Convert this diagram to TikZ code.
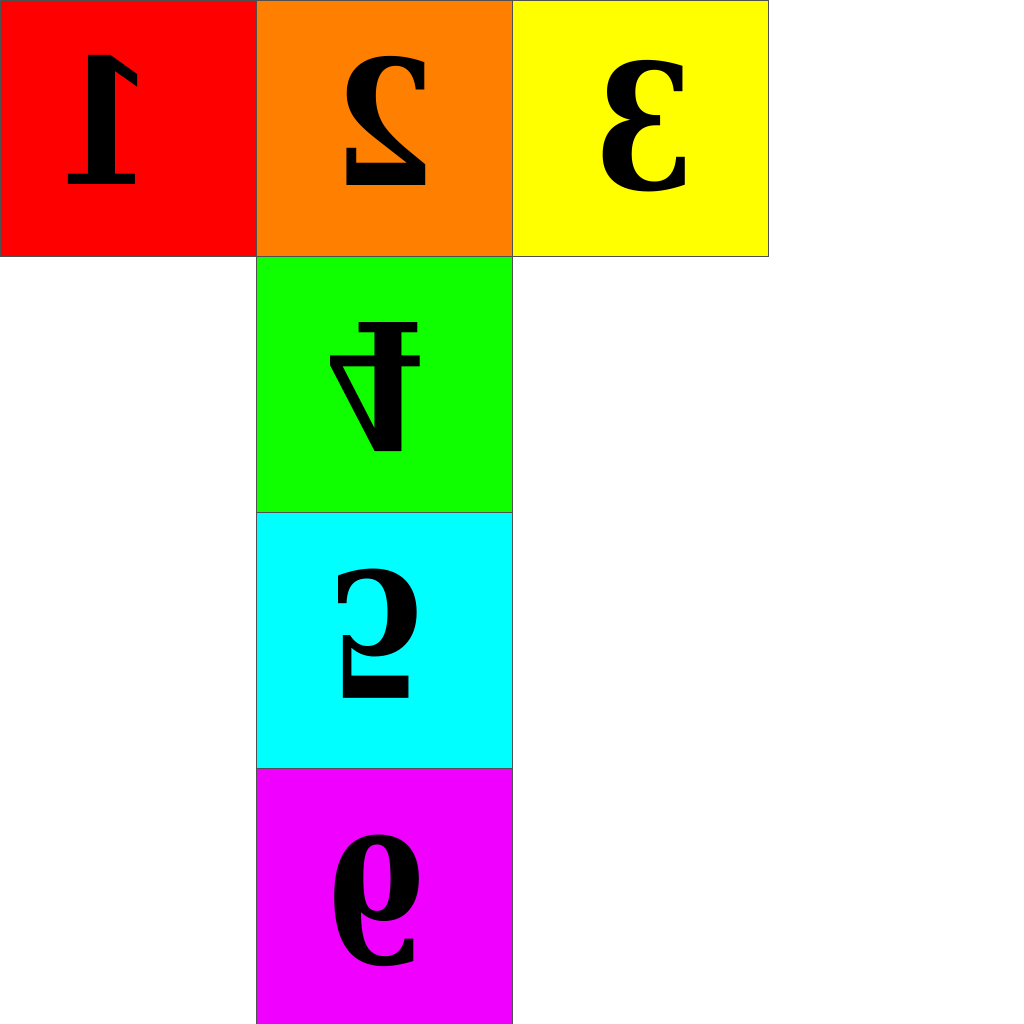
\documentclass[tikz,border=0pt]{standalone}
\usepackage{fontspec}
\newfontfamily\digitfont{DejaVu Serif}
\definecolor{cRed}{HTML}{FF0000}
\definecolor{cOrange}{HTML}{FF8000}
\definecolor{cYellow}{HTML}{FFFF00}
\definecolor{cGreen}{HTML}{10FF00}
\definecolor{cCyan}{HTML}{00FFFF}
\definecolor{cMagenta}{HTML}{F000FF}
\definecolor{cEdge}{HTML}{505050}
\tikzset{
  face/.style={draw=cEdge, line width=0.8pt, minimum size=256pt, inner sep=0pt, outer sep=0pt, anchor=north west},
  digit/.style={inner sep=0pt, outer sep=0pt, anchor=center, text=black, font=\digitfont\bfseries\fontsize{174}{174}\selectfont},
  hflip/.style={digit, xscale=-0.84},
  vflip/.style={digit, xscale=0.84, yscale=-1}
}
\begin{document}
\begin{tikzpicture}[x=1pt,y=-1pt]
\useasboundingbox (0,0) rectangle (1024,1024);
\node[face, fill=cRed] (s1) at (0,0) {};
\node[face, fill=cOrange] (s2) at (256,0) {};
\node[face, fill=cYellow] (s3) at (512,0) {};
\node[face, fill=cGreen] (s4) at (256,256) {};
\node[face, fill=cCyan] (s5) at (256,512) {};
\node[face, fill=cMagenta] (s6) at (256,768) {};
\node[hflip] (d1) at (105,119.5) {1};
\node[hflip] (d2) at (385,121) {2};
\node[hflip] (d3) at (645,126.5) {3};
\node[vflip] (d4) at (375.5,387) {4};
\node[vflip] (d5) at (377.5,633.5) {5};
\node[vflip] (d6) at (376.5,901) {6};
\end{tikzpicture}
\end{document}
